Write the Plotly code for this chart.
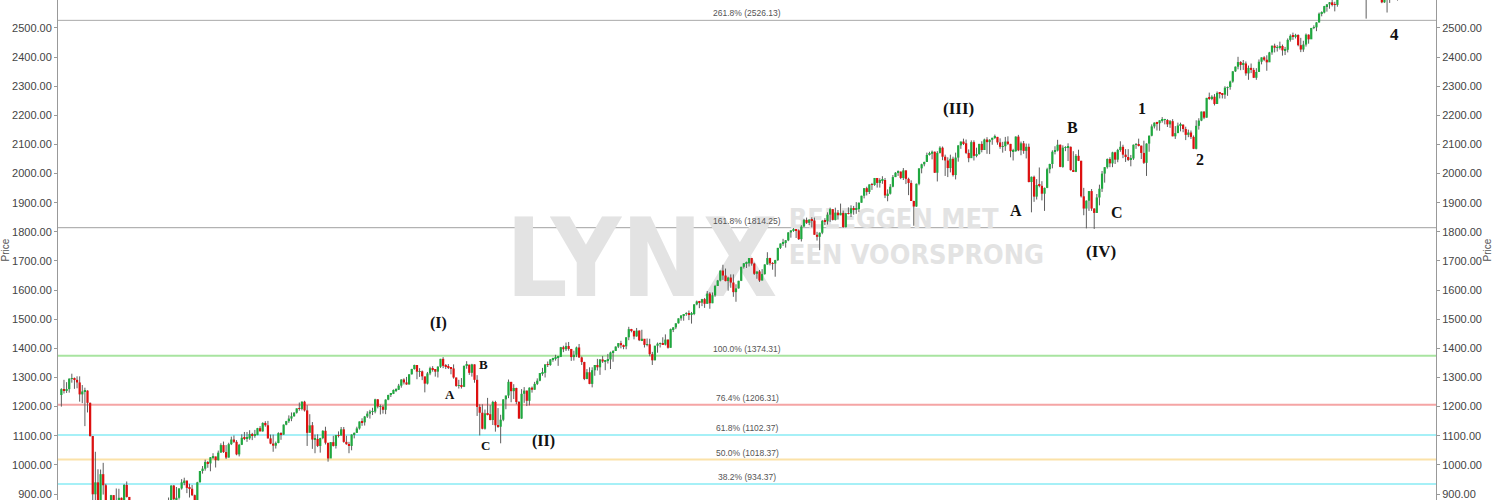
import pandas as pd
import plotly.graph_objects as go

# weekly S&P 500 bars, week ending Friday, starting 18 Jul 2008
close = [
    # 2008
    1260, 1257, 1260, 1296, 1298, 1292, 1283, 1242, 1252, 1255, 1213, 1099, 899, 940, 877, 968, 930, 873, 800, 896, 876, 879, 887, 872,
    # 2009
    931, 890, 850, 831, 826, 869, 826, 770, 735, 683, 756, 769, 816, 843, 857, 869, 866, 877, 929, 882, 887, 919, 940, 946, 921, 918,
    896, 879, 940, 979, 987, 1010, 1005, 1026, 1029, 1016, 1042, 1068, 1044, 1025, 1071, 1087, 1079, 1036, 1069, 1093, 1091, 1091, 1106, 1102, 1102, 1126, 1115,
    # 2010
    1144, 1136, 1091, 1073, 1066, 1075, 1109, 1104, 1138, 1150, 1159, 1167, 1179, 1194, 1192, 1217, 1187, 1110, 1136, 1087, 1089, 1065, 1092, 1117, 1076,
    1022, 1078, 1065, 1102, 1101, 1122, 1079, 1071, 1065, 1104, 1110, 1125, 1149, 1146, 1166, 1176, 1183, 1183, 1225, 1200, 1200, 1189, 1224, 1240, 1244, 1257, 1258,
    # 2011
    1272, 1293, 1283, 1276, 1311, 1329, 1343, 1320, 1321, 1304, 1279, 1314, 1332, 1329, 1320, 1337, 1364, 1340, 1338, 1333, 1331, 1300, 1271, 1271, 1268,
    1340, 1344, 1316, 1345, 1292, 1199, 1179, 1124, 1177, 1174, 1154, 1216, 1136, 1131, 1155, 1225, 1238, 1285, 1253, 1264, 1216, 1159, 1244, 1255, 1220, 1265, 1258,
    # 2012
    1278, 1289, 1315, 1316, 1345, 1343, 1362, 1366, 1370, 1371, 1404, 1397, 1408, 1398, 1370, 1378, 1403, 1369, 1353, 1295, 1318, 1278, 1325, 1343, 1335, 1362,
    1355, 1357, 1362, 1386, 1391, 1406, 1418, 1411, 1407, 1438, 1466, 1460, 1441, 1461, 1428, 1433, 1412, 1414, 1380, 1359, 1409, 1416, 1418, 1413, 1430, 1402,
    # 2013
    1466, 1472, 1486, 1503, 1513, 1518, 1520, 1516, 1518, 1551, 1561, 1557, 1569, 1553, 1588, 1555, 1582, 1614, 1633, 1667, 1650, 1631, 1643, 1626, 1593, 1606,
    1632, 1680, 1692, 1692, 1710, 1691, 1656, 1664, 1633, 1655, 1688, 1710, 1692, 1691, 1703, 1745, 1760, 1762, 1771, 1798, 1805, 1806, 1805, 1775, 1818, 1841,
    # 2014
    1831, 1842, 1839, 1790, 1783, 1797, 1838, 1836, 1859, 1878, 1841, 1866, 1857, 1865, 1816, 1864, 1863, 1881, 1878, 1878, 1900, 1924, 1950, 1937, 1963, 1961,
    1985, 1968, 1978, 1978, 1925, 1931, 1955, 1988, 2003, 2007, 1985, 2011, 1982, 1968, 1906, 1887, 1965, 2018, 2032, 2040, 2064, 2068, 2075, 2003, 2071, 2089,
    # 2015
    2058, 2045, 2019, 2051, 1995, 2055, 2097, 2110, 2104, 2071, 2053, 2108, 2061, 2067, 2102, 2081, 2117, 2108, 2116, 2123, 2126, 2107, 2092, 2094, 2110, 2102,
    2077, 2077, 2127, 2080, 2104, 2078, 2092, 1971, 1989, 1921, 1961, 1958, 1931, 1951, 2015, 2033, 2075, 2079, 2099, 2023, 2089, 2090, 2092, 2012, 2006, 2061, 2044,
    # 2016
    1922, 1880, 1907, 1940, 1880, 1865, 1918, 1948, 2000, 2022, 2050, 2035, 2073, 2048, 2081, 2092, 2065, 2057, 2047, 2052, 2099, 2099, 2096, 2071, 2037,
    2103, 2130, 2162, 2175, 2173, 2183, 2184, 2184, 2169, 2180, 2128, 2139, 2165, 2168, 2153, 2133, 2141, 2126, 2085, 2164, 2182, 2213, 2192, 2260, 2258, 2264, 2239,
    # 2017
    2277, 2275, 2271, 2295, 2297, 2316, 2351, 2367, 2383, 2373, 2378, 2344, 2363, 2356, 2329, 2349, 2384, 2399, 2391, 2382, 2416, 2439, 2432, 2433, 2438, 2423,
    2425, 2459, 2473, 2472, 2476, 2441, 2426, 2443, 2477, 2461, 2500, 2502, 2519, 2549, 2553, 2575, 2581, 2588, 2582, 2579, 2602, 2642, 2652, 2676, 2684, 2674,
    # 2018
    2743, 2786, 2810, 2873, 2762, 2620, 2732, 2747, 2691, 2786, 2752, 2588, 2641, 2604, 2656, 2670, 2670, 2663, 2728, 2713, 2721,
]
high = [
    1263, 1292, 1284, 1297, 1313, 1300, 1304, 1304, 1274, 1265, 1256, 1214, 1099, 1045, 985, 984, 1007, 935, 876, 897, 896, 919, 918, 888,
    934, 943, 888, 871, 877, 875, 876, 836, 779, 735, 758, 804, 833, 845, 857, 876, 871, 888, 930, 931, 924, 920, 951, 956, 946, 935,
    931, 898, 942, 979, 996, 1018, 1013, 1027, 1040, 1028, 1049, 1074, 1080, 1068, 1076, 1097, 1101, 1085, 1072, 1105, 1113, 1113, 1119, 1110, 1120, 1127, 1133,
    1146, 1150, 1151, 1104, 1104, 1080, 1112, 1112, 1139, 1151, 1170, 1180, 1181, 1194, 1214, 1218, 1220, 1205, 1174, 1147, 1104, 1105, 1093, 1119, 1131,
    1074, 1078, 1100, 1103, 1115, 1130, 1130, 1100, 1079, 1105, 1111, 1131, 1149, 1160, 1168, 1184, 1189, 1196, 1227, 1226, 1207, 1205, 1225, 1241, 1245, 1259, 1263,
    1278, 1294, 1297, 1302, 1311, 1330, 1344, 1338, 1332, 1324, 1296, 1319, 1337, 1339, 1328, 1339, 1364, 1370, 1346, 1346, 1334, 1345, 1300, 1292, 1298,
    1341, 1356, 1344, 1347, 1345, 1308, 1208, 1208, 1190, 1230, 1205, 1220, 1220, 1195, 1172, 1225, 1238, 1293, 1285, 1277, 1265, 1219, 1260, 1267, 1255, 1266, 1269,
    1285, 1297, 1315, 1333, 1345, 1355, 1363, 1368, 1378, 1374, 1405, 1409, 1420, 1422, 1398, 1392, 1406, 1415, 1372, 1354, 1329, 1335, 1335, 1343, 1364, 1363,
    1374, 1357, 1381, 1389, 1394, 1407, 1418, 1426, 1413, 1438, 1474, 1467, 1461, 1470, 1462, 1464, 1431, 1434, 1433, 1388, 1409, 1420, 1420, 1438, 1448, 1431,
    1468, 1473, 1486, 1503, 1514, 1518, 1524, 1530, 1525, 1552, 1564, 1563, 1570, 1573, 1597, 1593, 1592, 1618, 1635, 1667, 1687, 1674, 1646, 1654, 1654, 1620,
    1632, 1680, 1693, 1698, 1710, 1710, 1694, 1664, 1669, 1672, 1689, 1730, 1711, 1696, 1704, 1745, 1760, 1776, 1772, 1799, 1805, 1813, 1806, 1809, 1823, 1844,
    1849, 1843, 1850, 1849, 1800, 1798, 1841, 1847, 1867, 1883, 1878, 1883, 1875, 1897, 1873, 1865, 1884, 1891, 1889, 1902, 1901, 1924, 1950, 1955, 1963, 1968,
    1985, 1985, 1984, 1991, 1985, 1946, 1964, 1995, 2005, 2011, 2007, 2019, 2011, 1986, 1977, 1907, 1966, 2018, 2034, 2041, 2072, 2075, 2079, 2076, 2077, 2094,
    2093, 2065, 2056, 2065, 2058, 2072, 2097, 2110, 2120, 2117, 2083, 2114, 2114, 2089, 2102, 2111, 2120, 2125, 2118, 2123, 2134, 2126, 2121, 2109, 2126, 2128,
    2102, 2085, 2128, 2133, 2110, 2112, 2103, 2103, 1990, 1993, 1981, 2021, 1974, 1952, 2020, 2034, 2080, 2094, 2116, 2100, 2097, 2094, 2104, 2093, 2077, 2067, 2082,
    2044, 1951, 1908, 1940, 1947, 1881, 1930, 1962, 2009, 2022, 2052, 2056, 2075, 2075, 2085, 2111, 2099, 2084, 2084, 2064, 2100, 2105, 2120, 2096, 2113,
    2104, 2131, 2169, 2176, 2178, 2183, 2194, 2188, 2187, 2184, 2187, 2163, 2175, 2175, 2169, 2161, 2151, 2148, 2131, 2183, 2190, 2213, 2214, 2260, 2278, 2269, 2273,
    2282, 2279, 2276, 2300, 2299, 2319, 2352, 2368, 2401, 2386, 2390, 2385, 2371, 2378, 2363, 2362, 2392, 2399, 2403, 2406, 2418, 2440, 2446, 2441, 2453, 2443,
    2435, 2464, 2478, 2484, 2480, 2478, 2466, 2456, 2481, 2478, 2500, 2509, 2520, 2553, 2557, 2576, 2582, 2589, 2598, 2590, 2605, 2658, 2652, 2678, 2695, 2692,
    2743, 2787, 2810, 2873, 2873, 2763, 2734, 2754, 2789, 2787, 2802, 2754, 2675, 2675, 2680, 2717, 2683, 2676, 2732, 2743, 2742,
]
low = [
    1200, 1245, 1247, 1248, 1282, 1261, 1263, 1217, 1212, 1133, 1180, 1097, 840, 866, 860, 845, 898, 818, 741, 800, 815, 857, 867, 857,
    857, 888, 805, 804, 821, 811, 818, 754, 734, 667, 672, 748, 764, 779, 814, 837, 826, 851, 878, 878, 879, 881, 915, 930, 903, 888,
    893, 869, 875, 940, 970, 980, 990, 978, 1019, 991, 1015, 1042, 1041, 1020, 1025, 1068, 1075, 1033, 1029, 1068, 1085, 1079, 1086, 1085, 1093, 1102, 1115,
    1114, 1131, 1090, 1071, 1045, 1056, 1074, 1086, 1103, 1136, 1144, 1150, 1165, 1176, 1186, 1187, 1183, 1065, 1135, 1055, 1040, 1061, 1042, 1088, 1070,
    1011, 1028, 1063, 1056, 1094, 1100, 1076, 1069, 1040, 1050, 1091, 1110, 1121, 1134, 1135, 1161, 1159, 1171, 1177, 1194, 1173, 1176, 1174, 1222, 1233, 1243, 1250,
    1257, 1265, 1276, 1275, 1276, 1310, 1327, 1294, 1302, 1291, 1249, 1276, 1308, 1320, 1303, 1300, 1333, 1332, 1329, 1329, 1311, 1296, 1268, 1262, 1262,
    1267, 1330, 1309, 1303, 1282, 1168, 1101, 1122, 1121, 1170, 1153, 1137, 1114, 1127, 1074, 1150, 1191, 1229, 1215, 1226, 1208, 1158, 1158, 1213, 1202, 1204, 1248,
    1258, 1274, 1287, 1306, 1300, 1336, 1340, 1354, 1358, 1340, 1370, 1387, 1391, 1392, 1357, 1358, 1370, 1367, 1343, 1291, 1294, 1277, 1266, 1306, 1324, 1309,
    1350, 1325, 1348, 1329, 1354, 1391, 1401, 1400, 1397, 1397, 1428, 1455, 1431, 1440, 1425, 1425, 1403, 1407, 1373, 1343, 1359, 1385, 1403, 1412, 1410, 1399,
    1402, 1456, 1466, 1485, 1495, 1495, 1512, 1497, 1485, 1514, 1548, 1538, 1545, 1539, 1553, 1536, 1555, 1577, 1614, 1630, 1635, 1630, 1598, 1608, 1577, 1560,
    1605, 1631, 1674, 1676, 1681, 1684, 1652, 1639, 1628, 1633, 1653, 1687, 1685, 1670, 1646, 1700, 1741, 1752, 1746, 1768, 1780, 1800, 1779, 1772, 1767, 1818,
    1827, 1823, 1815, 1790, 1770, 1737, 1792, 1823, 1825, 1834, 1839, 1839, 1842, 1857, 1814, 1815, 1860, 1851, 1859, 1862, 1868, 1900, 1915, 1925, 1930, 1944,
    1958, 1952, 1952, 1965, 1916, 1905, 1928, 1953, 1988, 1992, 1981, 1978, 1964, 1926, 1906, 1821, 1886, 1960, 2001, 2025, 2040, 2062, 2049, 2002, 1973, 2069,
    2046, 1992, 1988, 2004, 1990, 1980, 2041, 2085, 2098, 2067, 2039, 2061, 2045, 2056, 2065, 2073, 2090, 2068, 2067, 2099, 2119, 2099, 2085, 2072, 2078, 2098,
    2056, 2045, 2075, 2077, 2063, 2068, 2052, 1970, 1867, 1903, 1911, 1953, 1908, 1872, 1950, 2001, 2018, 2066, 2076, 2022, 2020, 2077, 2043, 2010, 2006, 2005, 2043,
    1918, 1857, 1812, 1872, 1872, 1810, 1865, 1891, 1937, 1969, 2017, 2022, 2022, 2033, 2039, 2075, 2053, 2040, 2043, 2025, 2047, 2085, 2093, 2050, 2033,
    1992, 2075, 2128, 2155, 2148, 2147, 2175, 2169, 2160, 2157, 2128, 2119, 2139, 2145, 2142, 2115, 2125, 2119, 2084, 2083, 2151, 2180, 2187, 2192, 2253, 2252, 2234,
    2245, 2258, 2258, 2257, 2267, 2288, 2312, 2349, 2358, 2355, 2356, 2336, 2322, 2345, 2328, 2322, 2351, 2375, 2386, 2353, 2385, 2408, 2416, 2419, 2426, 2405,
    2407, 2416, 2453, 2459, 2464, 2437, 2417, 2418, 2436, 2446, 2464, 2496, 2489, 2518, 2540, 2550, 2556, 2566, 2574, 2557, 2573, 2601, 2625, 2650, 2673, 2672,
    2672, 2737, 2768, 2797, 2759, 2532, 2605, 2675, 2647, 2658, 2747, 2585, 2586, 2553, 2586, 2654, 2612, 2594, 2655, 2701, 2700,
]
first_open = 1240  # open of the first week; later opens = previous close

# Fibonacci levels
fib_names = ["261.8%", "161.8%", "100.0%", "76.4%", "61.8%", "50.0%", "38.2%"]
fib_values = [2526.13, 1814.25, 1374.31, 1206.31, 1102.37, 1018.37, 934.37]

# Elliott wave labels
wave_text = ["(I)", "A", "B", "C", "(II)", "(III)", "A", "B", "C", "(IV)", "1", "2", "4"]
wave_date = ["2011-04-23", "2011-05-25", "2011-08-21", "2011-08-27", "2012-01-29",
             "2015-02-13", "2015-07-18", "2015-12-15", "2016-04-13", "2016-03-01",
             "2016-06-19", "2016-11-21", "2018-04-25"]
wave_price = [1487, 1240, 1346, 1068, 1082, 2225, 1875, 2157, 1865, 1731, 2225, 2047, 2479]
wave_size = [16, 13, 13, 13, 16, 17, 16, 16, 16, 17, 16, 16, 17]

FIB_COLORS = ["#a9a9a9", "#a0a0a0", "#a8e4a0", "#f5a5a5", "#a6f0f7", "#fbe2a8", "#a6f0f7"]
FIB_WIDTHS = [1, 1, 2, 2, 2, 2, 2]
UP = "#1fa83f"
DOWN = "#dd1010"
TICK_FONT = dict(family="Liberation Sans, Arial", size=11, color="#444")
WM_FONT = "Liberation Sans Narrow, DejaVu Sans Condensed, Arial"
WM = "#e3e3e3"
BODY_MS = 6 * 24 * 3600 * 1000  # candle body width on the date axis

dates = pd.date_range("2008-07-18", periods=len(close), freq="W-FRI")
opens = [first_open] + close[:-1]

wick_x, wick_y = [], []
for d, h, l in zip(dates, high, low):
    wick_x += [d, d, None]
    wick_y += [l, h, None]

body_base = [min(o, c) for o, c in zip(opens, close)]
body_size = [max(abs(c - o), 1.5) for o, c in zip(opens, close)]
body_color = [UP if c >= o else DOWN for o, c in zip(opens, close)]

fig = go.Figure()

# wicks first (grey), bodies on top
fig.add_trace(go.Scatter(
    x=wick_x, y=wick_y, mode="lines",
    line=dict(color="#5e5e5e", width=1),
    hoverinfo="skip", showlegend=False,
))
fig.add_trace(go.Bar(
    x=dates, y=body_size, base=body_base, width=BODY_MS,
    marker=dict(color=body_color, line=dict(width=0)),
    yaxis="y2", showlegend=False,
))

# Fibonacci lines + labels
for name, val, col, w in zip(fib_names, fib_values, FIB_COLORS, FIB_WIDTHS):
    fig.add_shape(type="line", xref="paper", x0=0, x1=1, yref="y", y0=val, y1=val,
                  line=dict(color=col, width=w), layer="below")
    fig.add_annotation(x=0.5, xref="paper", y=val, yref="y", yanchor="bottom",
                       text=f"{name} ({val:.2f})", showarrow=False,
                       font=dict(family="Liberation Sans, Arial", size=8.5, color="#555"))

# LYNX watermark (behind the candles)
fig.add_shape(type="rect", xref="paper", yref="paper", x0=0.330, x1=0.517, y0=0.40, y1=0.60,
              line=dict(width=0), fillcolor="rgba(0,0,0,0)", layer="below",
              label=dict(text="<b>LYNX</b>", font=dict(family=WM_FONT, size=108, color=WM)))
fig.add_shape(type="rect", xref="paper", yref="paper", x0=0.526, x1=0.73, y0=0.538, y1=0.596,
              line=dict(width=0), fillcolor="rgba(0,0,0,0)", layer="below",
              label=dict(text="<b>BELEGGEN MET</b>", textposition="middle left",
                         font=dict(family=WM_FONT, size=27, color=WM)))
fig.add_shape(type="rect", xref="paper", yref="paper", x0=0.526, x1=0.76, y0=0.466, y1=0.524,
              line=dict(width=0), fillcolor="rgba(0,0,0,0)", layer="below",
              label=dict(text="<b>EEN VOORSPRONG</b>", textposition="middle left",
                         font=dict(family=WM_FONT, size=27, color=WM)))

# wave labels
for t, d, p, s in zip(wave_text, wave_date, wave_price, wave_size):
    fig.add_annotation(x=d, y=p, text=f"<b>{t}</b>", showarrow=False,
                       font=dict(family="Liberation Serif, Times New Roman, serif", size=s, color="#111"))

yax = dict(
    range=[879.4, 2596], tick0=0, dtick=100, tickformat=".2f",
    ticks="outside", ticklen=3, tickcolor="#999",
    showline=True, linecolor="#999", linewidth=1,
    showgrid=False, zeroline=False, tickfont=TICK_FONT,
    title=dict(text="Price", standoff=2, font=dict(family="Liberation Sans, Arial", size=10, color="#555")),
)

fig.update_layout(
    width=1500, height=500,
    margin=dict(l=58, r=64, t=0, b=0),
    paper_bgcolor="white", plot_bgcolor="white",
    showlegend=False, barmode="overlay",
    xaxis=dict(type="date", range=["2008-07-09", "2018-08-15"], visible=False),
    yaxis=yax,
    yaxis2=dict(yax, side="right", overlaying="y"),
)

fig.write_html("out.html", config={"displayModeBar": False},
               post_script="document.body.style.margin='0px';")
